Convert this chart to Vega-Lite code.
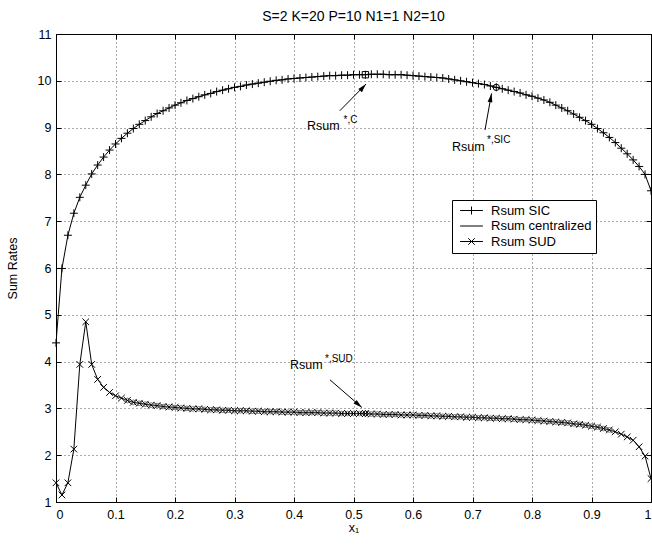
{
  "$schema": "https://vega.github.io/schema/vega-lite/v6.json",
  "width": 595,
  "height": 468,
  "autosize": "none",
  "padding": {"left": 56, "top": 34, "right": 1, "bottom": 48},
  "background": "white",
  "title": {"text": "S=2 K=20 P=10 N1=1 N2=10", "fontSize": 14, "fontWeight": "normal", "font": "Liberation Sans", "baseline": "alphabetic", "offset": -7, "color": "black"},
  "config": {
    "font": "Liberation Sans",
    "view": {"stroke": null},
    "axis": {"labelFont": "Liberation Sans", "labelFontSize": 12.5, "labelColor": "black", "titleFont": "Liberation Sans", "titleFontSize": 12.5, "titleFontWeight": "normal", "titleColor": "black", "domainColor": "black", "domainWidth": 1, "tickColor": "black", "tickSize": -5, "tickWidth": 1},
    "legend": {"labelFont": "Liberation Sans", "labelFontSize": 13, "padding": 4, "rowPadding": 1.5, "symbolSize": 36, "symbolStrokeWidth": 1, "symbolStrokeColor": "black", "labelOffset": 13, "symbolOffset": 9, "labelColor": "black"}
  },
  "datasets": {
    "curves": [
      {"x": 0.00, "sic": 4.40, "sud": 1.41},
      {"x": 0.01, "sic": 5.99, "sud": 1.15},
      {"x": 0.02, "sic": 6.70, "sud": 1.41},
      {"x": 0.03, "sic": 7.17, "sud": 2.13},
      {"x": 0.04, "sic": 7.51, "sud": 3.94},
      {"x": 0.05, "sic": 7.77, "sud": 4.85},
      {"x": 0.06, "sic": 8.01, "sud": 3.94},
      {"x": 0.07, "sic": 8.20, "sud": 3.62},
      {"x": 0.08, "sic": 8.37, "sud": 3.45},
      {"x": 0.09, "sic": 8.52, "sud": 3.34},
      {"x": 0.10, "sic": 8.65, "sud": 3.27},
      {"x": 0.11, "sic": 8.77, "sud": 3.22},
      {"x": 0.12, "sic": 8.88, "sud": 3.17},
      {"x": 0.13, "sic": 8.98, "sud": 3.13},
      {"x": 0.14, "sic": 9.07, "sud": 3.11},
      {"x": 0.15, "sic": 9.15, "sud": 3.09},
      {"x": 0.16, "sic": 9.23, "sud": 3.07},
      {"x": 0.17, "sic": 9.30, "sud": 3.06},
      {"x": 0.18, "sic": 9.36, "sud": 3.04},
      {"x": 0.19, "sic": 9.42, "sud": 3.03},
      {"x": 0.20, "sic": 9.48, "sud": 3.02},
      {"x": 0.21, "sic": 9.53, "sud": 3.01},
      {"x": 0.22, "sic": 9.58, "sud": 3.00},
      {"x": 0.23, "sic": 9.62, "sud": 2.99},
      {"x": 0.24, "sic": 9.66, "sud": 2.99},
      {"x": 0.25, "sic": 9.70, "sud": 2.98},
      {"x": 0.26, "sic": 9.73, "sud": 2.97},
      {"x": 0.27, "sic": 9.77, "sud": 2.97},
      {"x": 0.28, "sic": 9.80, "sud": 2.96},
      {"x": 0.29, "sic": 9.83, "sud": 2.96},
      {"x": 0.30, "sic": 9.86, "sud": 2.95},
      {"x": 0.31, "sic": 9.88, "sud": 2.95},
      {"x": 0.32, "sic": 9.91, "sud": 2.95},
      {"x": 0.33, "sic": 9.93, "sud": 2.94},
      {"x": 0.34, "sic": 9.95, "sud": 2.94},
      {"x": 0.35, "sic": 9.97, "sud": 2.93},
      {"x": 0.36, "sic": 9.99, "sud": 2.93},
      {"x": 0.37, "sic": 10.01, "sud": 2.93},
      {"x": 0.38, "sic": 10.02, "sud": 2.92},
      {"x": 0.39, "sic": 10.04, "sud": 2.92},
      {"x": 0.40, "sic": 10.05, "sud": 2.92},
      {"x": 0.41, "sic": 10.06, "sud": 2.91},
      {"x": 0.42, "sic": 10.07, "sud": 2.91},
      {"x": 0.43, "sic": 10.08, "sud": 2.91},
      {"x": 0.44, "sic": 10.09, "sud": 2.91},
      {"x": 0.45, "sic": 10.10, "sud": 2.90},
      {"x": 0.46, "sic": 10.11, "sud": 2.90},
      {"x": 0.47, "sic": 10.11, "sud": 2.90},
      {"x": 0.48, "sic": 10.12, "sud": 2.89},
      {"x": 0.49, "sic": 10.12, "sud": 2.89},
      {"x": 0.50, "sic": 10.13, "sud": 2.89},
      {"x": 0.51, "sic": 10.13, "sud": 2.89},
      {"x": 0.52, "sic": 10.13, "sud": 2.89},
      {"x": 0.53, "sic": 10.14, "sud": 2.88},
      {"x": 0.54, "sic": 10.14, "sud": 2.88},
      {"x": 0.55, "sic": 10.14, "sud": 2.87},
      {"x": 0.56, "sic": 10.13, "sud": 2.87},
      {"x": 0.57, "sic": 10.13, "sud": 2.87},
      {"x": 0.58, "sic": 10.13, "sud": 2.86},
      {"x": 0.59, "sic": 10.12, "sud": 2.86},
      {"x": 0.60, "sic": 10.11, "sud": 2.86},
      {"x": 0.61, "sic": 10.10, "sud": 2.85},
      {"x": 0.62, "sic": 10.09, "sud": 2.85},
      {"x": 0.63, "sic": 10.08, "sud": 2.84},
      {"x": 0.64, "sic": 10.07, "sud": 2.84},
      {"x": 0.65, "sic": 10.06, "sud": 2.83},
      {"x": 0.66, "sic": 10.04, "sud": 2.83},
      {"x": 0.67, "sic": 10.02, "sud": 2.82},
      {"x": 0.68, "sic": 10.00, "sud": 2.82},
      {"x": 0.69, "sic": 9.98, "sud": 2.81},
      {"x": 0.70, "sic": 9.96, "sud": 2.81},
      {"x": 0.71, "sic": 9.94, "sud": 2.80},
      {"x": 0.72, "sic": 9.92, "sud": 2.80},
      {"x": 0.73, "sic": 9.89, "sud": 2.79},
      {"x": 0.74, "sic": 9.86, "sud": 2.79},
      {"x": 0.75, "sic": 9.83, "sud": 2.78},
      {"x": 0.76, "sic": 9.80, "sud": 2.78},
      {"x": 0.77, "sic": 9.77, "sud": 2.77},
      {"x": 0.78, "sic": 9.74, "sud": 2.76},
      {"x": 0.79, "sic": 9.70, "sud": 2.76},
      {"x": 0.80, "sic": 9.67, "sud": 2.75},
      {"x": 0.81, "sic": 9.63, "sud": 2.74},
      {"x": 0.82, "sic": 9.59, "sud": 2.73},
      {"x": 0.83, "sic": 9.54, "sud": 2.72},
      {"x": 0.84, "sic": 9.48, "sud": 2.71},
      {"x": 0.85, "sic": 9.42, "sud": 2.70},
      {"x": 0.86, "sic": 9.36, "sud": 2.69},
      {"x": 0.87, "sic": 9.29, "sud": 2.67},
      {"x": 0.88, "sic": 9.22, "sud": 2.66},
      {"x": 0.89, "sic": 9.15, "sud": 2.64},
      {"x": 0.90, "sic": 9.07, "sud": 2.62},
      {"x": 0.91, "sic": 8.98, "sud": 2.60},
      {"x": 0.92, "sic": 8.89, "sud": 2.57},
      {"x": 0.93, "sic": 8.79, "sud": 2.54},
      {"x": 0.94, "sic": 8.68, "sud": 2.50},
      {"x": 0.95, "sic": 8.56, "sud": 2.45},
      {"x": 0.96, "sic": 8.44, "sud": 2.39},
      {"x": 0.97, "sic": 8.31, "sud": 2.32},
      {"x": 0.98, "sic": 8.17, "sud": 2.18},
      {"x": 0.99, "sic": 8.00, "sud": 1.98},
      {"x": 1.00, "sic": 7.65, "sud": 1.50}
    ],
    "optima": [
      {"x": 0.52, "y": 10.13, "sym": "square"},
      {"x": 0.74, "y": 9.86, "sym": "circle"},
      {"x": 0.52, "y": 2.89, "sym": "diamond"}
    ],
    "arrows": [
      {"x": 0.477, "y": 9.36, "x2": 0.521, "y2": 9.93, "ang": 41.8},
      {"x": 0.721, "y": 8.95, "x2": 0.732, "y2": 9.73, "ang": 10.3},
      {"x": 0.4605, "y": 3.61, "x2": 0.514, "y2": 3.02, "ang": 130.7}
    ],
    "labels": [
      {"x": 0.4218, "y": 8.949, "t": "Rsum", "k": "main"},
      {"x": 0.4832, "y": 9.098, "t": "*,C", "k": "sup"},
      {"x": 0.6655, "y": 8.50, "t": "Rsum", "k": "main"},
      {"x": 0.7244, "y": 8.671, "t": "*,SIC", "k": "sup"},
      {"x": 0.3933, "y": 3.842, "t": "Rsum", "k": "main"},
      {"x": 0.4521, "y": 3.991, "t": "*,SUD", "k": "sup"}
    ]
  },
  "resolve": {"axis": {"x": "independent", "y": "independent"}},
  "layer": [
    {
      "data": {"name": "curves"},
      "transform": [{"fold": ["sic", "cent", "sud"], "as": ["series", "y"]}],
      "mark": {"type": "line", "strokeWidth": 1, "clip": true},
      "encoding": {
        "x": {"field": "x", "type": "quantitative", "scale": {"domain": [0, 1], "nice": false},
          "axis": {"orient": "bottom", "values": [0, 0.1, 0.2, 0.3, 0.4, 0.5, 0.6, 0.7, 0.8, 0.9, 1], "format": "~g", "title": "x₁", "grid": true, "gridColor": "#555", "gridDash": [1, 3], "gridWidth": 1, "labelPadding": 11, "titlePadding": 1}},
        "y": {"field": "y", "type": "quantitative", "scale": {"domain": [1, 11], "nice": false, "zero": false},
          "axis": {"orient": "left", "values": [1, 2, 3, 4, 5, 6, 7, 8, 9, 10, 11], "title": "Sum Rates", "grid": true, "gridColor": "#555", "gridDash": [1, 3], "gridWidth": 1, "labelPadding": 10, "titlePadding": 18}},
        "color": {"field": "series", "type": "nominal", "scale": {"domain": ["sic", "cent", "sud"], "range": ["black", "black", "black"]},
          "legend": {"orient": "none", "legendX": 396, "legendY": 166, "title": null, "symbolType": "M-3.8,0L3.8,0", "strokeColor": "black", "fillColor": "white", "zindex": 1,
            "labelExpr": "datum.value == 'sic' ? 'Rsum SIC' : datum.value == 'cent' ? 'Rsum centralized' : 'Rsum SUD'"}},
        "detail": {"field": "series"}
      }
    },
    {
      "data": {"name": "curves"},
      "transform": [{"fold": ["sic", "sud"], "as": ["mk", "y"]}],
      "mark": {"type": "point", "filled": false, "color": "black", "strokeWidth": 1, "size": 36, "opacity": 1},
      "encoding": {
        "x": {"field": "x", "type": "quantitative", "scale": {"domain": [0, 1], "nice": false},
          "axis": {"orient": "top", "values": [0, 0.1, 0.2, 0.3, 0.4, 0.5, 0.6, 0.7, 0.8, 0.9, 1], "labels": false, "title": null, "grid": false}},
        "y": {"field": "y", "type": "quantitative", "scale": {"domain": [1, 11], "nice": false, "zero": false},
          "axis": {"orient": "right", "values": [1, 2, 3, 4, 5, 6, 7, 8, 9, 10, 11], "labels": false, "title": null, "grid": false}},
        "shape": {"field": "mk", "type": "nominal", "scale": {"domain": ["sic", "none", "sud"], "range": ["M-1.33,0L1.33,0M0,-1.33L0,1.33", "M0,0", "M-1.1,-1.1L1.1,1.1M1.1,-1.1L-1.1,1.1"]},
          "legend": {"orient": "none", "legendX": 396, "legendY": 166, "title": null, "labelColor": "transparent", "zindex": 2,
            "labelExpr": "datum.value == 'sic' ? 'Rsum SIC' : datum.value == 'none' ? 'Rsum centralized' : 'Rsum SUD'"}}
      }
    },
    {
      "data": {"name": "curves"},
      "transform": [{"filter": "datum.x > 0.115 && datum.x < 0.935"}],
      "mark": {"type": "point", "shape": "circle", "filled": false, "color": "#555", "strokeWidth": 0.8, "size": 22, "opacity": 1},
      "encoding": {
        "x": {"field": "x", "type": "quantitative", "scale": {"domain": [0, 1], "nice": false}, "axis": null},
        "y": {"field": "sud", "type": "quantitative", "scale": {"domain": [1, 11], "nice": false, "zero": false}, "axis": null}
      }
    },
    {
      "data": {"name": "optima"},
      "mark": {"type": "point", "filled": false, "color": "black", "strokeWidth": 1, "size": 40, "opacity": 1},
      "encoding": {
        "x": {"field": "x", "type": "quantitative", "scale": {"domain": [0, 1], "nice": false}, "axis": null},
        "y": {"field": "y", "type": "quantitative", "scale": {"domain": [1, 11], "nice": false, "zero": false}, "axis": null},
        "shape": {"field": "sym", "type": "nominal", "scale": null}
      }
    },
    {
      "data": {"name": "arrows"},
      "mark": {"type": "rule", "color": "black", "strokeWidth": 1},
      "encoding": {
        "x": {"field": "x", "type": "quantitative", "scale": {"domain": [0, 1], "nice": false}, "axis": null},
        "y": {"field": "y", "type": "quantitative", "scale": {"domain": [1, 11], "nice": false, "zero": false}, "axis": null},
        "x2": {"field": "x2"},
        "y2": {"field": "y2"}
      }
    },
    {
      "data": {"name": "arrows"},
      "mark": {"type": "point", "shape": "M0,0L-0.6,2.2L0.6,2.2Z", "filled": true, "color": "black", "size": 64, "opacity": 1},
      "encoding": {
        "x": {"field": "x2", "type": "quantitative", "scale": {"domain": [0, 1], "nice": false}, "axis": null},
        "y": {"field": "y2", "type": "quantitative", "scale": {"domain": [1, 11], "nice": false, "zero": false}, "axis": null},
        "angle": {"field": "ang", "type": "quantitative", "scale": null}
      }
    },
    {
      "data": {"name": "labels"},
      "transform": [{"filter": "datum.k == 'main'"}],
      "mark": {"type": "text", "align": "left", "baseline": "alphabetic", "fontSize": 12.5, "color": "black", "font": "Liberation Sans"},
      "encoding": {
        "x": {"field": "x", "type": "quantitative", "scale": {"domain": [0, 1], "nice": false}, "axis": null},
        "y": {"field": "y", "type": "quantitative", "scale": {"domain": [1, 11], "nice": false, "zero": false}, "axis": null},
        "text": {"field": "t"}
      }
    },
    {
      "data": {"name": "labels"},
      "transform": [{"filter": "datum.k == 'sup'"}],
      "mark": {"type": "text", "align": "left", "baseline": "alphabetic", "fontSize": 10, "color": "black", "font": "Liberation Sans"},
      "encoding": {
        "x": {"field": "x", "type": "quantitative", "scale": {"domain": [0, 1], "nice": false}, "axis": null},
        "y": {"field": "y", "type": "quantitative", "scale": {"domain": [1, 11], "nice": false, "zero": false}, "axis": null},
        "text": {"field": "t"}
      }
    }
  ]
}
